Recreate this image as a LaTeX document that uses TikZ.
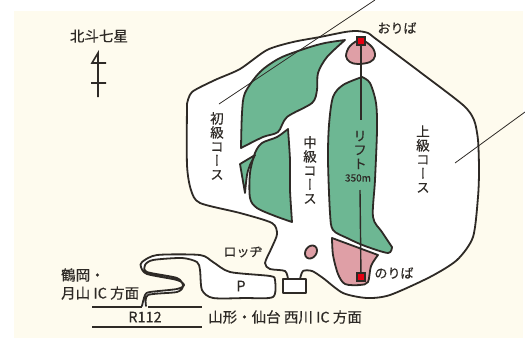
\documentclass[tikz,border=0pt]{standalone}
\usepackage{fontspec}
\setmainfont[FakeBold=0.35]{Noto Sans CJK JP}
\newfontfamily\vertfont[RawFeature={+vert},FakeBold=0.35]{Noto Sans CJK JP}
\definecolor{cream}{HTML}{FEFBEE}
\definecolor{ink}{HTML}{2E2A26}
\definecolor{slope}{HTML}{6DB793}
\definecolor{stn}{HTML}{DF9FA6}
\definecolor{mark}{HTML}{E60012}
\tikzset{
  edge/.style={draw=ink,line width=1.8pt,line join=round,line cap=round},
  thin line/.style={draw=ink,line width=0.8pt},
  lift line/.style={draw=ink,line width=1.4pt},
  label/.style={text=ink,font=\fontsize{13}{15}\selectfont,inner sep=0pt},
  biglabel/.style={text=ink,font=\fontsize{14.5}{17}\selectfont,inner sep=0pt},
  vlabel/.style={text=ink,font=\vertfont\fontsize{13.5}{14}\selectfont,align=center,inner sep=0pt},
  stnsq/.style={draw=ink,fill=mark,line width=1.3pt,minimum size=8pt,inner sep=0pt},
}
\begin{document}
\begin{tikzpicture}[x=1pt,y=-1pt]
\useasboundingbox (0,0) rectangle (525,338);
\fill[white] (0,0) rectangle (525,338);
\fill[cream] (14,11) rectangle (523,338);
% ski area
\fill[white] plot[smooth,tension=.45] coordinates {(187,104) (192,92) (215,80) (240,69) (267,50) (293,42) (320,37) (345,32) (357,31) (368,33) (376,39) (420,72) (463,105) (474,120) (478,140) (479,170) (478,197) (473,237) (457,260) (430,277) (390,295) (367,298) (343,293) (323,278) (312,271) (303,271) (300,279)}
 -- plot[smooth,tension=.45] coordinates {(288,279) (285,271) (270,269) (265,263) (272,247) (277,234) (272,223) (240,213) (200,203) (191,190) (187,165) (187,104)};
\draw[edge] plot[smooth,tension=.45] coordinates {(187,104) (192,92) (215,80) (240,69) (267,50) (293,42) (320,37) (345,32) (357,31) (368,33) (376,39) (420,72) (463,105) (474,120) (478,140) (479,170) (478,197) (473,237) (457,260) (430,277) (390,295) (367,298) (343,293) (323,278) (312,271) (303,271) (300,279)};
\draw[edge] plot[smooth,tension=.45] coordinates {(288,279) (285,271) (270,269) (265,263) (272,247) (277,234) (272,223) (240,213) (200,203) (191,190) (187,165) (187,104)};
% building
\draw[edge,fill=white] (283,279) rectangle (306,293);
% courses
\draw[edge,fill=slope] plot[smooth,tension=.5] coordinates {(345,40) (325,43) (307,48) (280,58) (260,72) (245,93) (242,113) (241,148)}
 -- plot[smooth,tension=.5] coordinates {(241,148) (263,137) (278,132) (287,117) (312,103) (317,90) (318,73) (327,57) (345,40)} -- cycle;
\draw[edge,fill=slope] plot[smooth,tension=.5] coordinates {(288,129) (277,137) (262,143) (255,153) (250,173) (250,198) (257,208) (275,216) (292,222)}
 -- plot[smooth,tension=.4] coordinates {(292,222) (290,190) (290,160) (288,129)} -- cycle;
\draw[edge,fill=slope] (255,155) -- (240,164) -- (245,193) -- plot[smooth,tension=.5] coordinates {(245,193) (247,175) (250,165) (255,155)} -- cycle;
\draw[edge,fill=slope] plot[smooth,tension=.5] coordinates {(362,77) (370,83) (376,103) (377,130) (375,180) (373,217) (382,232) (392,247)}
 -- plot[smooth,tension=.5] coordinates {(392,247) (388,253) (365,246) (347,238) (333,230) (330,213) (328,160) (329,125) (333,97) (343,85) (362,77)} -- cycle;
% stations
\draw[edge,fill=stn] plot[smooth cycle,tension=.6] coordinates {(361,40) (372,47) (375,56) (370,62) (358,64) (350,62) (346,56) (350,46)};
\draw[edge,fill=stn] (332,238) -- (378,255) -- plot[smooth,tension=.5] coordinates {(378,255) (371,266) (368,282) (360,285) (345,284) (338,274) (333,255) (332,238)} -- cycle;
\draw[edge,fill=stn,rotate around={-35:(311,252)}] (311,252) ellipse [x radius=5.5,y radius=7];
% lift
\draw[lift line] (361,41) -- (361,120);
\draw[lift line] (360,190) -- (361,277);
\node[stnsq] (top) at (361,41) {};
\node[stnsq] (bottom) at (361,277) {};
% pointer lines
\draw[thin line] (375,0) -- (219,104);
\draw[thin line] (525,112) -- (455,163);
% road and car park
\draw[edge,fill=white] plot[smooth,tension=.45] coordinates {(146,306) (148,295) (177,292) (183,286) (177,278) (147,272) (145,265) (153,260) (182,258) (197,262) (200,270) (202,290) (213,298) (245,298) (273,297) (275,280) (270,276) (230,272) (213,262) (200,255) (157,255) (142,262) (141,267) (147,274) (177,280) (184,285) (177,289) (150,292) (145,295) (142,306)};
\draw[thin line,line width=1.7pt] (92,307) -- (142,307) (148,307) -- (202,307) (92,327) -- (202,327);
% compass mark
\draw[ink,line width=1.6pt,line join=miter] (106,63) -- (92,63) -- (98,53) -- (98,97) (91,83) -- (106,83);
% texts
\node[biglabel] (north) at (99,36) {北斗七星};
\node[label] (top label) at (397,28) {おりば};
\node[label] (bottom label) at (394,273) {のりば};
\node[label] (lodge) at (243,252) {ロッヂ};
\node[biglabel] (park) at (241,286) {P};
\node[biglabel] (route) at (145,317) {R112};
\node[biglabel,anchor=west] (east) at (208,317) {山形・仙台 西川 IC 方面};
\node[biglabel,anchor=west] (west1) at (61,275) {鶴岡・};
\node[biglabel,anchor=west] (west2) at (61,293) {月山 IC 方面};
\node[vlabel] (beginner) at (217,146) {初\\級\\コ\\ー\\ス};
\node[vlabel] (middle) at (310,170) {中\\級\\コ\\ー\\ス};
\node[vlabel] (expert) at (423,159) {上\\級\\コ\\ー\\ス};
\node[vlabel] (lift) at (360,150) {リ\\フ\\ト};
\node[text=ink,font=\fontsize{10}{12}\selectfont,inner sep=0pt] (len) at (358,178) {350m};
\end{tikzpicture}
\end{document}
